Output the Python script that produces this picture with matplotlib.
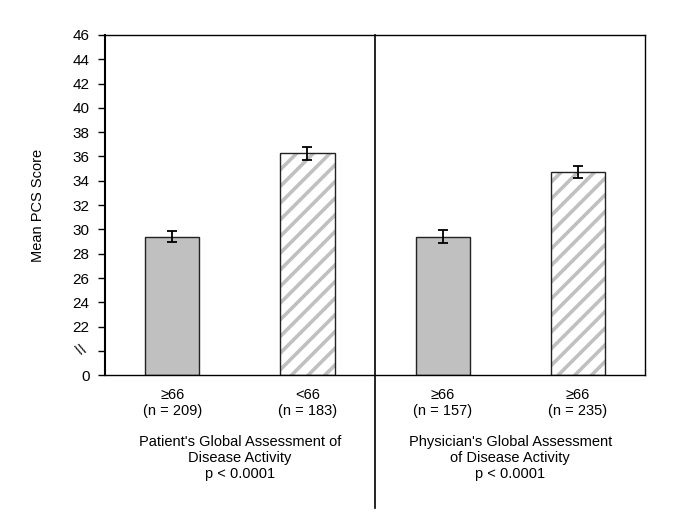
import matplotlib
matplotlib.use("Agg")
import matplotlib.pyplot as plt
import numpy as np

plt.rcParams["font.family"] = ["Liberation Sans", "DejaVu Sans"]
plt.rcParams["hatch.linewidth"] = 2.6

# data
categories = ["≥66\n(n = 209)", "<66\n(n = 183)", "≥66\n(n = 157)", "≥66\n(n = 235)"]
means = [29.4, 36.25, 29.4, 34.75]
errors = [0.45, 0.55, 0.55, 0.5]
groups = ["Patient's Global Assessment of\nDisease Activity\np < 0.0001",
          "Physician's Global Assessment\nof Disease Activity\np < 0.0001"]
ytick_vals = [0] + list(range(22, 47, 2))

# broken axis: 0 at the bottom, then 22..46; gap of one tick step
BREAK_LO = 22
OFFSET = BREAK_LO - 4


def to_axis(v):
    return v if v <= 0 else v - OFFSET


fig = plt.figure(figsize=(6.85, 5.14), dpi=100)
ax = fig.add_axes([0.153, 0.270, 0.789, 0.662])

x = np.arange(len(means))
heights = [to_axis(m) for m in means]
faces = ["#c0c0c0", "white", "#c0c0c0", "white"]
hatches = [None, "//", None, "//"]
for xi, h, fc, ht in zip(x, heights, faces, hatches):
    # hatch takes the edge colour, so draw the stripes and the outline separately
    ax.bar(xi, h, width=0.4, color=fc, edgecolor="#c0c0c0", linewidth=0, hatch=ht, zorder=2)
    ax.bar(xi, h, width=0.4, fill=False, edgecolor="#222222", linewidth=1.0, zorder=2.5)
ax.errorbar(x, heights, yerr=errors, fmt="none", ecolor="black", elinewidth=1.3,
            capsize=3.5, capthick=1.3, zorder=3)

ax.set_xlim(-0.5, 3.5)
ax.set_ylim(0, to_axis(46))

yt = [to_axis(v) for v in ytick_vals] + [2]
ax.set_yticks(yt)
ax.set_yticklabels([str(v) for v in ytick_vals] + [""], fontsize=11)
ax.text(-0.044, 2 / to_axis(46), "\\\\", transform=ax.transAxes, rotation=25,
        ha="center", va="center", fontsize=11)
ax.tick_params(axis="y", direction="out", length=5, width=1.0, pad=6)

ax.set_xticks(x)
ax.set_xticklabels(categories, fontsize=10.5, linespacing=1.2)
ax.tick_params(axis="x", length=0, pad=9)

for s in ax.spines.values():
    s.set_linewidth(1.0)
    s.set_color("black")
ax.spines["left"].set_linewidth(1.5)

ax.axvline(1.5, ymin=-0.39, ymax=1, color="black", linewidth=1.2, clip_on=False)

for gi, g in enumerate(groups):
    ax.text(0.5 + 2 * gi, -0.175, g, transform=ax.get_xaxis_transform(), ha="center",
            va="top", fontsize=10.5, linespacing=1.2)

ax.set_ylabel("Mean PCS Score", fontsize=10.5, labelpad=20)

fig.savefig("out.png", dpi=100)
